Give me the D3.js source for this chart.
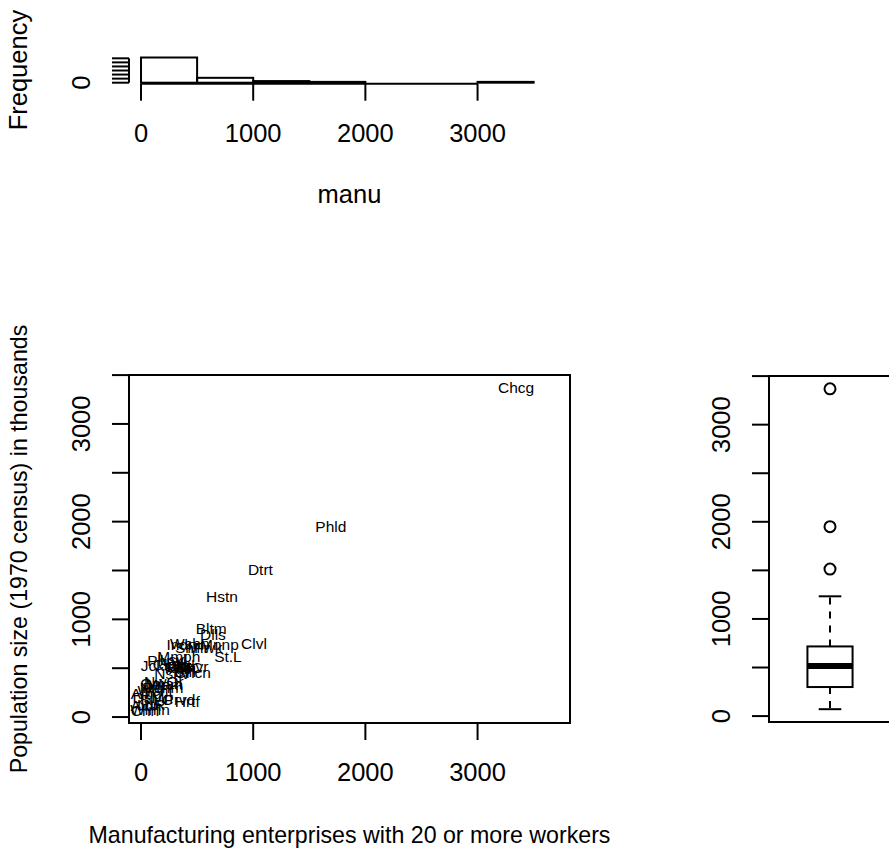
<!DOCTYPE html>
<html>
<head>
<meta charset="utf-8">
<script src="https://cdn.jsdelivr.net/npm/d3@7"></script>
<style>
  html, body { margin: 0; padding: 0; background: #fff; }
  svg text { font-family: "Liberation Sans", Arial, Helvetica, sans-serif; fill: #000; }
</style>
</head>
<body>
<div id="chart"></div>
<script>
// US air pollution data, manu vs popul, city names abbreviated
var cities = ["Albn", "Albq", "Atln", "Bltm", "Bffl", "Chrl", "Chcg", "Cncn", "Clvl", "Clmb",
  "Dlls", "Dnvr", "DsMn", "Dtrt", "Hrtf", "Hstn", "Indn", "Jcks", "KnsC", "LttR",
  "Lsvl", "Mmph", "Miam", "Mlwk", "Mnnp", "Nshv", "NwOr", "Nrfl", "Omah", "Phld",
  "Phnx", "Ptts", "Prvd", "Rchm", "SlLC", "SnFr", "Sttl", "St.L", "Wshn", "Wcht", "Wlmn"];
var manu = [44, 46, 368, 625, 391, 35, 3344, 462, 1007, 266,
  641, 454, 104, 1064, 412, 721, 361, 136, 381, 91,
  291, 337, 207, 569, 699, 275, 204, 96, 181, 1692,
  213, 347, 343, 197, 137, 453, 379, 775, 434, 125, 80];
var popul = [116, 244, 497, 905, 463, 71, 3369, 453, 751, 540,
  844, 515, 201, 1513, 158, 1233, 746, 529, 507, 132,
  593, 624, 335, 717, 744, 448, 361, 308, 347, 1950,
  582, 520, 179, 299, 176, 716, 531, 622, 757, 277, 80];

var xTicks = [0, 1000, 2000, 3000];
var yTicks = [0, 500, 1000, 1500, 2000, 2500, 3000, 3500];
var histBreaks = [0, 500, 1000, 1500, 2000, 2500, 3000, 3500];
var histYTicks = [0, 5, 10, 15, 20, 25, 30];

var xLab = "Manufacturing enterprises with 20 or more workers";
var yLab = "Population size (1970 census) in thousands";
var histXLab = "manu";
var histYLab = "Frequency";

var W = 889, H = 851;
var tickFont = 25.5, labFont = 23.2, txtFont = 15.5;
var tickLen = 17, lw = 2;

var svg = d3.select("#chart").append("svg")
  .attr("width", W)
  .attr("height", H);

// xlim as range(manu) * 1.1, then the usual 4% stretch
var xl = [d3.min(manu) * 1.1, d3.max(manu) * 1.1];
var xd = (xl[1] - xl[0]) * 0.04;
var yr = d3.extent(popul);
var yd = (yr[1] - yr[0]) * 0.04;

// drop labels that would run into the previous one (gap of one "m")
function keepLabels(ticks, scale, widthOf) {
  var kept = [], last = null, gap = 0.833 * tickFont;
  ticks.forEach(function(t) {
    var c = scale(t), hw = widthOf(t) / 2;
    var lo = Math.min(c - hw, c + hw), hi = Math.max(c - hw, c + hw);
    if (last === null || Math.abs(lo - last) >= gap && lo > last) {
      kept.push(t);
      last = hi;
    }
  });
  return kept;
}
function labW(t) { return String(t).length * 0.556 * tickFont; }

function xAxisBottom(g, scale, ticks, y0) {
  g.append("line")
    .attr("x1", scale(ticks[0])).attr("x2", scale(ticks[ticks.length - 1]))
    .attr("y1", y0).attr("y2", y0)
    .attr("stroke", "#000").attr("stroke-width", lw);
  g.selectAll(".xt").data(ticks).enter().append("line")
    .attr("x1", function(d) { return scale(d); })
    .attr("x2", function(d) { return scale(d); })
    .attr("y1", y0).attr("y2", y0 + tickLen)
    .attr("stroke", "#000").attr("stroke-width", lw);
  g.selectAll(".xl").data(keepLabels(ticks, scale, labW)).enter().append("text")
    .attr("x", function(d) { return scale(d); })
    .attr("y", y0 + 58)
    .attr("text-anchor", "middle")
    .style("font-size", tickFont + "px")
    .text(function(d) { return d; });
}

function yAxisLeft(g, scale, ticks, x0) {
  g.append("line")
    .attr("x1", x0).attr("x2", x0)
    .attr("y1", scale(ticks[0])).attr("y2", scale(ticks[ticks.length - 1]))
    .attr("stroke", "#000").attr("stroke-width", lw);
  g.selectAll(".yt").data(ticks).enter().append("line")
    .attr("x1", x0 - tickLen).attr("x2", x0)
    .attr("y1", function(d) { return scale(d); })
    .attr("y2", function(d) { return scale(d); })
    .attr("stroke", "#000").attr("stroke-width", lw);
  g.selectAll(".yl").data(keepLabels(ticks.slice().reverse().reverse(), function(d) { return -scale(d); }, labW))
    .enter().append("text")
    .attr("transform", function(d) { return "translate(" + (x0 - 39) + "," + scale(d) + ") rotate(-90)"; })
    .attr("text-anchor", "middle")
    .style("font-size", tickFont + "px")
    .text(function(d) { return d; });
}

// ---------- scatter (bottom left) ----------
var sx = d3.scaleLinear().domain([xl[0] - xd, xl[1] + xd]).range([129, 570]);
var sy = d3.scaleLinear().domain([yr[0] - yd, yr[1] + yd]).range([723, 375]);

var gs = svg.append("g");
gs.append("rect")
  .attr("x", 129).attr("y", 375).attr("width", 441).attr("height", 348)
  .attr("fill", "none").attr("stroke", "#000").attr("stroke-width", lw);

gs.selectAll(".city").data(cities).enter().append("text")
  .attr("x", function(d, i) { return sx(manu[i]); })
  .attr("y", function(d, i) { return sy(popul[i]); })
  .attr("dy", "0.36em")
  .attr("text-anchor", "middle")
  .style("font-size", txtFont + "px")
  .text(function(d) { return d; });

xAxisBottom(gs, sx, xTicks, 723);
yAxisLeft(gs, sy, yTicks, 129);

gs.append("text")
  .attr("x", (129 + 570) / 2).attr("y", 843)
  .attr("text-anchor", "middle")
  .style("font-size", labFont + "px")
  .text(xLab);
gs.append("text")
  .attr("transform", "translate(27," + (375 + 723) / 2 + ") rotate(-90)")
  .attr("text-anchor", "middle")
  .style("font-size", labFont + "px")
  .text(yLab);

// ---------- histogram (top left) ----------
var bins = d3.bin().domain([histBreaks[0], histBreaks[histBreaks.length - 1]])
  .thresholds(histBreaks.slice(1, -1))(manu);
var maxCount = d3.max(bins, function(b) { return b.length; });

var hx = d3.scaleLinear().domain(sx.domain()).range([129, 570]);
var hy = d3.scaleLinear().domain([-maxCount * 0.04, maxCount * 1.04]).range([83.7, 56.5]);

var gh = svg.append("g");
gh.selectAll(".bar").data(bins).enter().append("rect")
  .attr("x", function(b) { return hx(b.x0); })
  .attr("y", function(b) { return hy(b.length); })
  .attr("width", function(b) { return hx(b.x1) - hx(b.x0); })
  .attr("height", function(b) { return hy(0) - hy(b.length); })
  .attr("fill", "none").attr("stroke", "#000").attr("stroke-width", lw);

xAxisBottom(gh, hx, xTicks, 83.7);
yAxisLeft(gh, hy, histYTicks, 129);

gh.append("text")
  .attr("x", (129 + 570) / 2).attr("y", 203)
  .attr("text-anchor", "middle")
  .style("font-size", tickFont + "px")
  .text(histXLab);
gh.append("text")
  .attr("transform", "translate(27," + (56.5 + 83.7) / 2 + ") rotate(-90)")
  .attr("text-anchor", "middle")
  .style("font-size", tickFont + "px")
  .text(histYLab);

// ---------- boxplot (bottom right) ----------
var sorted = popul.slice().sort(d3.ascending);
var n = sorted.length;
function med(a) {
  var m = a.length;
  return m % 2 ? a[(m - 1) / 2] : (a[m / 2 - 1] + a[m / 2]) / 2;
}
var half = Math.floor((n + 1) / 2);
var q1 = med(sorted.slice(0, half));
var q2 = med(sorted);
var q3 = med(sorted.slice(n - half));
var iqr = q3 - q1;
var inside = sorted.filter(function(v) { return v >= q1 - 1.5 * iqr && v <= q3 + 1.5 * iqr; });
var wLo = d3.min(inside), wHi = d3.max(inside);
var outl = sorted.filter(function(v) { return v < wLo || v > wHi; });

var bx = d3.scaleLinear().domain([0.5, 1.5]).range([769, 891]);
var by = d3.scaleLinear().domain(sy.domain()).range([722, 376]);
var boxW = 0.37;

var gb = svg.append("g");
gb.append("rect")
  .attr("x", bx(0.5)).attr("y", 376).attr("width", bx(1.5) - bx(0.5)).attr("height", 346)
  .attr("fill", "none").attr("stroke", "#000").attr("stroke-width", lw);

[[q3, wHi], [q1, wLo]].forEach(function(p) {
  gb.append("line")
    .attr("x1", bx(1)).attr("x2", bx(1))
    .attr("y1", by(p[0])).attr("y2", by(p[1]))
    .attr("stroke", "#000").attr("stroke-width", lw)
    .attr("stroke-dasharray", "7,7");
  gb.append("line")
    .attr("x1", bx(1 - boxW / 4)).attr("x2", bx(1 + boxW / 4))
    .attr("y1", by(p[1])).attr("y2", by(p[1]))
    .attr("stroke", "#000").attr("stroke-width", lw);
});

gb.append("rect")
  .attr("x", bx(1 - boxW / 2)).attr("y", by(q3))
  .attr("width", bx(1 + boxW / 2) - bx(1 - boxW / 2))
  .attr("height", by(q1) - by(q3))
  .attr("fill", "#fff").attr("stroke", "#000").attr("stroke-width", lw);
gb.append("line")
  .attr("x1", bx(1 - boxW / 2)).attr("x2", bx(1 + boxW / 2))
  .attr("y1", by(q2)).attr("y2", by(q2))
  .attr("stroke", "#000").attr("stroke-width", 6);

gb.selectAll(".out").data(outl).enter().append("circle")
  .attr("cx", bx(1))
  .attr("cy", function(d) { return by(d); })
  .attr("r", 5.5)
  .attr("fill", "none").attr("stroke", "#000").attr("stroke-width", lw);

yAxisLeft(gb, by, yTicks, 769);
</script>
</body>
</html>
